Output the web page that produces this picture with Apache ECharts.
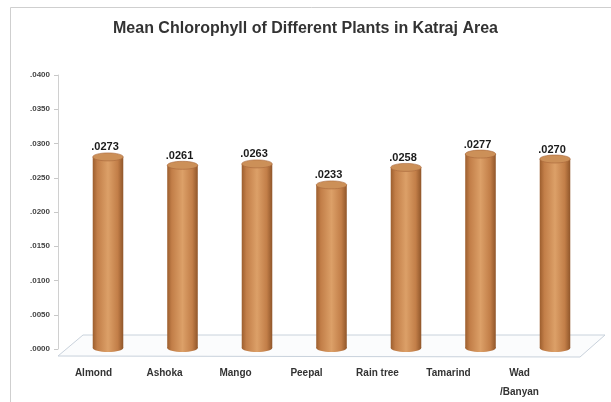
<!DOCTYPE html>
<html>
<head>
<meta charset="utf-8">
<script src="https://cdn.jsdelivr.net/npm/echarts@6/dist/echarts.min.js"></script>
<style>
  html, body { margin: 0; padding: 0; background: #ffffff; }
  #chart { width: 611px; height: 402px; }
</style>
</head>
<body>
<div id="chart"></div>
<script>
// Plants sampled and their mean chlorophyll values
const plants = ['Almond', 'Ashoka', 'Mango', 'Peepal', 'Rain tree', 'Tamarind', 'Wad\n/Banyan'];
const meanChlorophyll = [0.0273, 0.0261, 0.0263, 0.0233, 0.0258, 0.0277, 0.0270];
const yTicks = { min: 0, max: 0.04, interval: 0.005 };

// ".0273" style: four decimals, no leading zero
const fmt = v => v.toFixed(4).replace(/^0/, '');

const chart = echarts.init(document.getElementById('chart'));

const sideGradient = new echarts.graphic.LinearGradient(0, 0, 1, 0, [
  { offset: 0, color: '#9c5e2e' },
  { offset: 0.15, color: '#c27e48' },
  { offset: 0.5, color: '#dca068' },
  { offset: 0.82, color: '#c27e48' },
  { offset: 1, color: '#90562a' }
]);

function renderCylinder(params, api) {
  const i = api.value(0);
  const v = api.value(1);
  const top = api.coord([i, v]);
  const base = api.coord([i, 0]);
  const w = api.size([1, 0])[0] * 0.41;
  const rx = w / 2, ry = 4;
  const cx = top[0];
  return {
    type: 'group',
    children: [
      { type: 'ellipse', shape: { cx: cx, cy: base[1], rx: rx, ry: ry }, style: { fill: sideGradient } },
      { type: 'rect', shape: { x: cx - rx, y: top[1], width: w, height: base[1] - top[1] }, style: { fill: sideGradient } },
      { type: 'ellipse', shape: { cx: cx, cy: top[1], rx: rx, ry: ry }, style: { fill: '#cc9058', stroke: '#a8673a', lineWidth: 0.6 } },
      { type: 'text', style: {
          text: fmt(v), x: cx - 3, y: top[1] - 4,
          align: 'center', verticalAlign: 'bottom',
          font: 'bold 11px "Liberation Sans", Arial, sans-serif', fill: '#1a1a1a'
        } }
    ]
  };
}

chart.setOption({
  animation: false,
  backgroundColor: '#ffffff',
  title: {
    text: 'Mean Chlorophyll of Different Plants in Katraj Area',
    left: 'center', top: 16,
    textStyle: { fontFamily: '"Liberation Sans", Arial, sans-serif', fontSize: 16, fontWeight: 'bold', color: '#333333' }
  },
  graphic: [
    { type: 'rect', silent: true, z: -10, shape: { x: 10.5, y: 7.5, width: 640, height: 420 },
      style: { fill: 'none', stroke: '#cfcfcf', lineWidth: 1 } },
    { type: 'polygon', silent: true, z: -5,
      shape: { points: [[58, 356], [83, 335], [605, 335], [580, 357]] },
      style: { fill: '#fbfcfd', stroke: '#c9d2dc', lineWidth: 1 } }
  ],
  grid: [
    { left: 58, right: 56, top: 75, bottom: 47 },
    { left: 70.75, right: 18.75, top: 68, bottom: 54 }
  ],
  xAxis: [
    { type: 'category', gridIndex: 0, data: plants,
      axisLine: { show: false }, axisTick: { show: false },
      axisLabel: { margin: 15, color: '#333', fontSize: 10, fontWeight: 'bold', lineHeight: 19,
        fontFamily: '"Liberation Sans", Arial, sans-serif', interval: 0 } },
    { type: 'category', gridIndex: 1, data: plants, show: false }
  ],
  yAxis: [
    { type: 'value', gridIndex: 0, min: yTicks.min, max: yTicks.max, interval: yTicks.interval,
      axisLine: { show: true, lineStyle: { color: '#d0d0d0' } },
      axisTick: { show: true, length: 4, lineStyle: { color: '#c8c8c8' } },
      splitLine: { show: false },
      axisLabel: { formatter: fmt, fontSize: 8, fontWeight: 'bold', color: '#444', margin: 8,
        fontFamily: '"Liberation Sans", Arial, sans-serif' } },
    { type: 'value', gridIndex: 1, min: yTicks.min, max: yTicks.max, show: false }
  ],
  series: [{
    type: 'custom',
    xAxisIndex: 1, yAxisIndex: 1,
    renderItem: renderCylinder,
    data: meanChlorophyll.map((v, i) => [i, v])
  }]
});
</script>
</body>
</html>
